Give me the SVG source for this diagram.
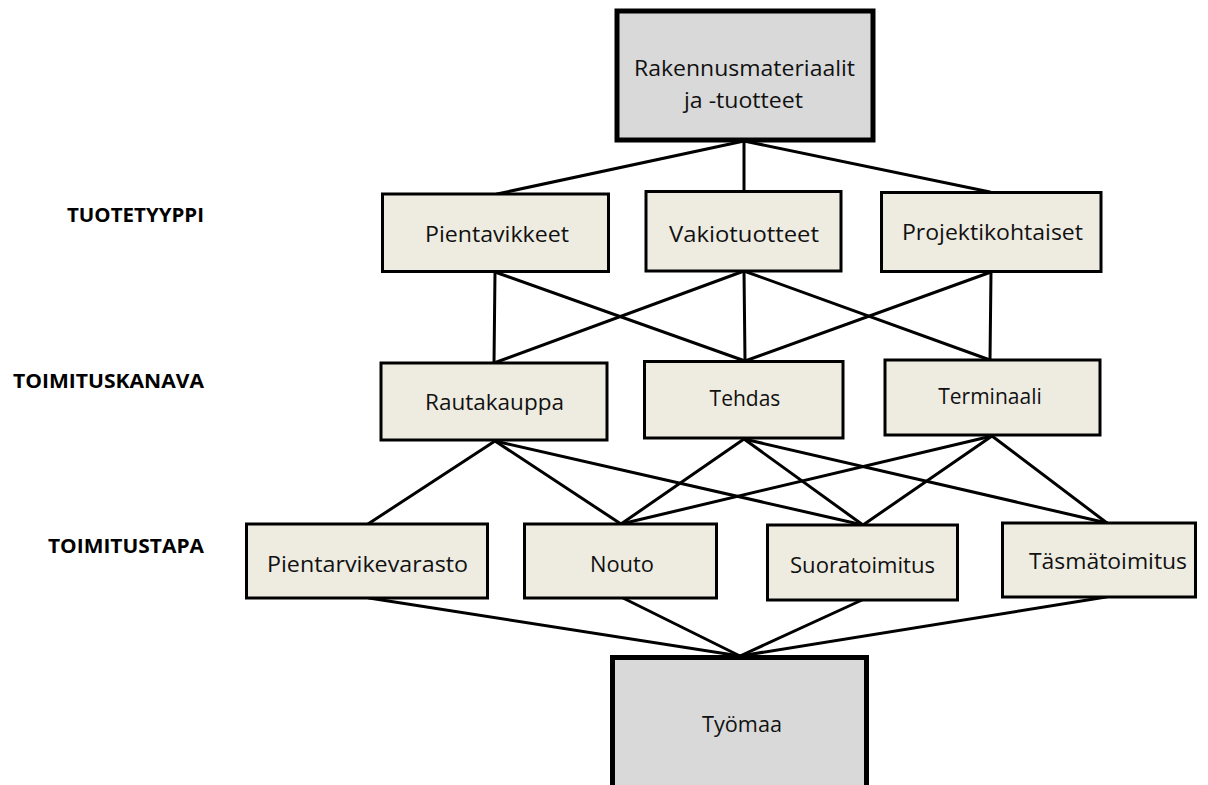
<svg xmlns="http://www.w3.org/2000/svg" width="1208" height="785" viewBox="0 0 1208 785">
  <style>
    .end { fill: #d9d9d9; stroke: #000; stroke-width: 5; }
    .mid { fill: #eeece1; stroke: #000; stroke-width: 3; }
    .t { font-family: "Open Sans", "Noto Sans", sans-serif; font-size: 21px; fill: #111; text-anchor: middle; }
    .lvl { font-family: "Open Sans", "Noto Sans", sans-serif; font-size: 19px; font-weight: bold; fill: #000; text-anchor: end; }
    #connectors line { stroke: #000; stroke-width: 3; stroke-linecap: round; }
  </style>
  <rect width="1208" height="785" fill="#fff"/>

  <!-- level labels -->
  <g id="levels">
    <text class="lvl" x="204" y="222" textLength="137" lengthAdjust="spacingAndGlyphs">TUOTETYYPPI</text>
    <text class="lvl" x="204" y="388" textLength="191" lengthAdjust="spacingAndGlyphs">TOIMITUSKANAVA</text>
    <text class="lvl" x="204" y="553" textLength="156" lengthAdjust="spacingAndGlyphs">TOIMITUSTAPA</text>
  </g>

  <!-- connectors -->
  <g id="connectors">
    <line x1="744" y1="141" x2="497" y2="194"/>
    <line x1="744" y1="141" x2="744" y2="191"/>
    <line x1="744" y1="141" x2="990" y2="192"/>

    <line x1="495" y1="272" x2="494" y2="363"/>
    <line x1="495" y1="272" x2="745" y2="361"/>
    <line x1="744" y1="271" x2="494" y2="363"/>
    <line x1="744" y1="271" x2="745" y2="361"/>
    <line x1="744" y1="271" x2="990" y2="360"/>
    <line x1="991" y1="272" x2="745" y2="361"/>
    <line x1="991" y1="272" x2="990" y2="360"/>

    <line x1="495" y1="441" x2="368" y2="524"/>
    <line x1="495" y1="441" x2="621" y2="524"/>
    <line x1="495" y1="441" x2="863" y2="525"/>
    <line x1="744" y1="439" x2="621" y2="524"/>
    <line x1="744" y1="439" x2="863" y2="525"/>
    <line x1="744" y1="439" x2="1107" y2="523"/>
    <line x1="992" y1="436" x2="621" y2="524"/>
    <line x1="992" y1="436" x2="863" y2="525"/>
    <line x1="992" y1="436" x2="1107" y2="523"/>

    <line x1="369" y1="598" x2="740" y2="656"/>
    <line x1="623" y1="598" x2="740" y2="656"/>
    <line x1="862" y1="600" x2="740" y2="656"/>
    <line x1="1106" y1="597" x2="740" y2="656"/>
  </g>

  <!-- source -->
  <g id="rakennusmateriaalit">
    <rect class="end" x="617" y="11" width="256" height="129"/>
    <text class="t" x="744.5" y="76" textLength="221" lengthAdjust="spacingAndGlyphs">Rakennusmateriaalit</text>
    <text class="t" x="743.5" y="108" textLength="119" lengthAdjust="spacingAndGlyphs">ja -tuotteet</text>
  </g>

  <!-- product type -->
  <g id="pientavikkeet">
    <rect class="mid" x="382.5" y="194" width="226" height="77.5"/>
    <text class="t" x="497" y="242" textLength="144" lengthAdjust="spacingAndGlyphs">Pientavikkeet</text>
  </g>
  <g id="vakiotuotteet">
    <rect class="mid" x="646" y="191.5" width="195" height="79.5"/>
    <text class="t" x="744" y="242" textLength="150" lengthAdjust="spacingAndGlyphs">Vakiotuotteet</text>
  </g>
  <g id="projektikohtaiset">
    <rect class="mid" x="881.5" y="192.5" width="219.5" height="79"/>
    <text class="t" x="992.5" y="240" textLength="181" lengthAdjust="spacingAndGlyphs">Projektikohtaiset</text>
  </g>

  <!-- delivery channel -->
  <g id="rautakauppa">
    <rect class="mid" x="381" y="363" width="226" height="77"/>
    <text class="t" x="494.5" y="410" textLength="139" lengthAdjust="spacingAndGlyphs">Rautakauppa</text>
  </g>
  <g id="tehdas">
    <rect class="mid" x="644.5" y="361.5" width="198.5" height="76.5"/>
    <text class="t" x="745" y="406">Tehdas</text>
  </g>
  <g id="terminaali">
    <rect class="mid" x="885" y="360" width="215" height="75"/>
    <text class="t" x="990" y="404">Terminaali</text>
  </g>

  <!-- delivery method -->
  <g id="pientarvikevarasto">
    <rect class="mid" x="246.5" y="524" width="241" height="74"/>
    <text class="t" x="367.5" y="572" textLength="201" lengthAdjust="spacingAndGlyphs">Pientarvikevarasto</text>
  </g>
  <g id="nouto">
    <rect class="mid" x="524.5" y="524" width="192" height="74"/>
    <text class="t" x="622" y="572" textLength="64" lengthAdjust="spacingAndGlyphs">Nouto</text>
  </g>
  <g id="suoratoimitus">
    <rect class="mid" x="767.5" y="525" width="190" height="75"/>
    <text class="t" x="862.5" y="573" textLength="145" lengthAdjust="spacingAndGlyphs">Suoratoimitus</text>
  </g>
  <g id="tasmatoimitus">
    <rect class="mid" x="1002.5" y="523" width="193" height="74"/>
    <text class="t" x="1108" y="569" textLength="158" lengthAdjust="spacingAndGlyphs">Täsmätoimitus</text>
  </g>

  <!-- destination -->
  <g id="tyomaa">
    <rect class="end" x="612.5" y="657.5" width="254" height="150"/>
    <text class="t" x="742" y="732" textLength="80" lengthAdjust="spacingAndGlyphs">Työmaa</text>
  </g>
</svg>
